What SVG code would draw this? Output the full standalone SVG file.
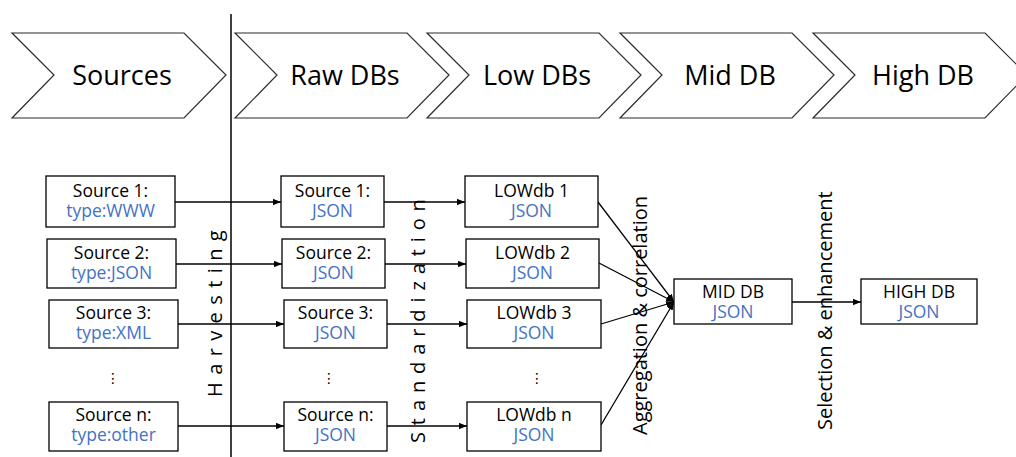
<svg xmlns="http://www.w3.org/2000/svg" width="1016" height="457" viewBox="0 0 1016 457">
  <style>
    .chev { fill: #ffffff; stroke: #2b2b2b; stroke-width: 1.2; }
    .phase { font-family: "Open Sans", "Noto Sans", sans-serif; font-size: 27px; fill: #000; text-anchor: middle; }
    .box { fill: #ffffff; stroke: #000; stroke-width: 1.3; }
    .t1 { font-family: "Open Sans", "Noto Sans", sans-serif; font-size: 17.5px; fill: #000; text-anchor: middle; }
    .t2 { font-family: "Open Sans", "Noto Sans", sans-serif; font-size: 17.5px; fill: #4472C4; text-anchor: middle; }
    .dots { font-family: "DejaVu Sans", sans-serif; font-size: 14px; fill: #000; text-anchor: middle; }
    .vlab { font-family: "Open Sans", "Noto Sans", sans-serif; font-size: 20px; fill: #000; }
    .conn { stroke: #000; stroke-width: 1.3; fill: none; marker-end: url(#arr); }
  </style>
  <defs>
    <marker id="arr" viewBox="0 0 10 8" refX="10" refY="4" markerWidth="8" markerHeight="6.4" markerUnits="userSpaceOnUse" orient="auto">
      <path d="M0,0 L10,4 L0,8 Z" fill="#000"/>
    </marker>
    <path id="chevron" d="M0,0 H172 L214,42 L172,85 H0 L42,42 Z"/>
  </defs>

  <rect width="1016" height="457" fill="#ffffff"/>

  <!-- phase chevrons -->
  <g id="phases">
    <g id="phase-sources"><use href="#chevron" x="12" y="33" class="chev"/><text class="phase" x="122" y="85">Sources</text></g>
    <g id="phase-raw"><use href="#chevron" x="235" y="33" class="chev"/><text class="phase" x="345" y="85">Raw DBs</text></g>
    <g id="phase-low"><use href="#chevron" x="427" y="33" class="chev"/><text class="phase" x="537" y="85">Low DBs</text></g>
    <g id="phase-mid"><use href="#chevron" x="620" y="33" class="chev"/><text class="phase" x="730" y="85">Mid DB</text></g>
    <g id="phase-high"><use href="#chevron" x="813" y="33" class="chev"/><text class="phase" x="923" y="85">High DB</text></g>
  </g>

  <!-- divider between sources and databases -->
  <line x1="231" y1="14" x2="231" y2="457" stroke="#000" stroke-width="1.5"/>

  <!-- connectors -->
  <g id="connectors">
    <line class="conn" x1="175" y1="202" x2="281" y2="202"/>
    <line class="conn" x1="176" y1="264" x2="282" y2="264"/>
    <line class="conn" x1="178" y1="324" x2="284" y2="324"/>
    <line class="conn" x1="178" y1="426" x2="284" y2="426"/>

    <line class="conn" x1="384" y1="202" x2="465" y2="202"/>
    <line class="conn" x1="385" y1="264" x2="466" y2="264"/>
    <line class="conn" x1="387" y1="324" x2="467" y2="324"/>
    <line class="conn" x1="387" y1="426" x2="467" y2="426"/>

    <line class="conn" x1="598" y1="202" x2="674" y2="302"/>
    <line class="conn" x1="599" y1="263" x2="674" y2="302"/>
    <line class="conn" x1="601" y1="324" x2="674" y2="302"/>
    <line class="conn" x1="601" y1="425" x2="674" y2="302"/>

    <line class="conn" x1="792" y1="302" x2="861" y2="302"/>
  </g>

  <!-- process labels -->
  <text class="vlab" transform="translate(222,397) rotate(-90)" letter-spacing="7.4">Harvesting</text>
  <text class="vlab" transform="translate(425,443) rotate(-90)" letter-spacing="6.9">Standardization</text>
  <text class="vlab" transform="translate(647,435) rotate(-90)">Aggregation &amp; correlation</text>
  <text class="vlab" transform="translate(832,430) rotate(-90)">Selection &amp; enhancement</text>

  <!-- sources -->
  <g id="src1"><rect class="box" x="46" y="176" width="129" height="51"/><text class="t1" x="110.5" y="197">Source 1:</text><text class="t2" x="110.5" y="217">type:WWW</text></g>
  <g id="src2"><rect class="box" x="47" y="239" width="129" height="49"/><text class="t1" x="111.5" y="258.5">Source 2:</text><text class="t2" x="111.5" y="278.5">type:JSON</text></g>
  <g id="src3"><rect class="box" x="49" y="300" width="129" height="48"/><text class="t1" x="113.5" y="319">Source 3:</text><text class="t2" x="113.5" y="339">type:XML</text></g>
  <text class="dots" x="113" y="383">⋮</text>
  <g id="srcn"><rect class="box" x="49" y="402" width="129" height="49"/><text class="t1" x="113.5" y="421">Source n:</text><text class="t2" x="113.5" y="441">type:other</text></g>

  <!-- raw databases -->
  <g id="raw1"><rect class="box" x="281" y="176" width="103" height="51"/><text class="t1" x="332.5" y="197">Source 1:</text><text class="t2" x="332.5" y="217">JSON</text></g>
  <g id="raw2"><rect class="box" x="282" y="239" width="103" height="49"/><text class="t1" x="333.5" y="258.5">Source 2:</text><text class="t2" x="333.5" y="278.5">JSON</text></g>
  <g id="raw3"><rect class="box" x="284" y="300" width="103" height="48"/><text class="t1" x="335.5" y="319">Source 3:</text><text class="t2" x="335.5" y="339">JSON</text></g>
  <text class="dots" x="329" y="383">⋮</text>
  <g id="rawn"><rect class="box" x="284" y="402" width="103" height="49"/><text class="t1" x="335.5" y="421">Source n:</text><text class="t2" x="335.5" y="441">JSON</text></g>

  <!-- low databases -->
  <g id="low1"><rect class="box" x="465" y="176" width="133" height="51"/><text class="t1" x="531.5" y="197">LOWdb 1</text><text class="t2" x="531.5" y="217">JSON</text></g>
  <g id="low2"><rect class="box" x="466" y="239" width="133" height="49"/><text class="t1" x="532.5" y="258.5">LOWdb 2</text><text class="t2" x="532.5" y="278.5">JSON</text></g>
  <g id="low3"><rect class="box" x="467" y="300" width="134" height="48"/><text class="t1" x="534" y="319">LOWdb 3</text><text class="t2" x="534" y="339">JSON</text></g>
  <text class="dots" x="537" y="383">⋮</text>
  <g id="lown"><rect class="box" x="467" y="402" width="134" height="49"/><text class="t1" x="534" y="421">LOWdb n</text><text class="t2" x="534" y="441">JSON</text></g>

  <!-- mid and high databases -->
  <g id="mid"><rect class="box" x="674" y="279" width="118" height="45"/><text class="t1" x="733" y="298">MID DB</text><text class="t2" x="733" y="318">JSON</text></g>
  <g id="high"><rect class="box" x="861" y="279" width="116" height="45"/><text class="t1" x="919" y="298">HIGH DB</text><text class="t2" x="919" y="318">JSON</text></g>
</svg>
